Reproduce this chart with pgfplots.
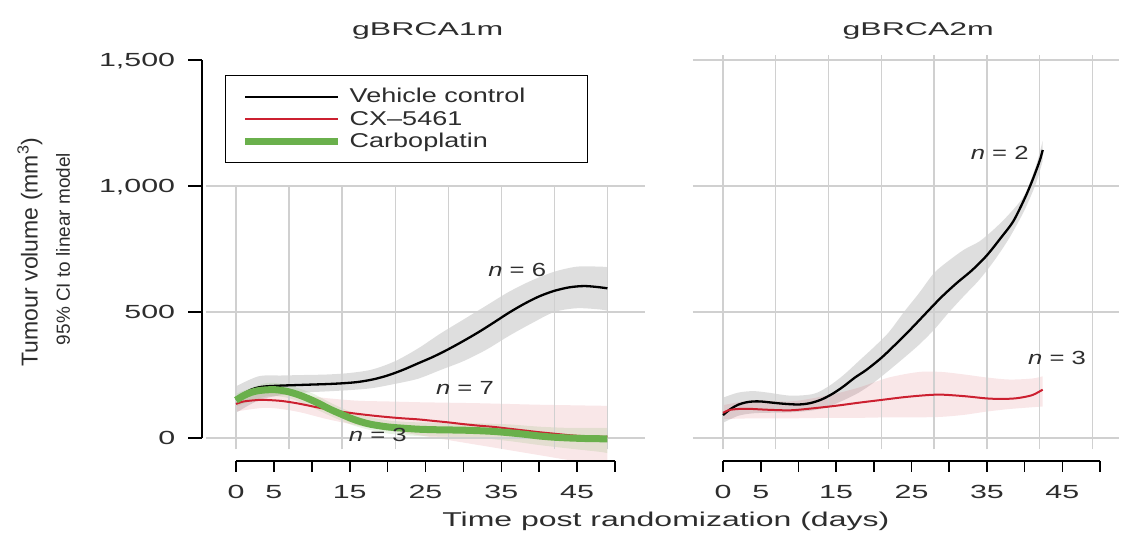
\documentclass[border=0pt]{standalone}
\usepackage{fontspec}
\setmainfont{Liberation Sans}
\usepackage{graphicx}
\usepackage{pgfplots}
\usepackage{pgfplotstable}
\pgfplotsset{compat=1.18}
\usepgfplotslibrary{fillbetween}

\definecolor{cred}{RGB}{204,32,48}
\definecolor{cgreen}{RGB}{106,176,76}
\definecolor{cgrid}{RGB}{208,208,208}
\definecolor{ctext}{RGB}{45,45,45}

\newcommand{\sx}[2]{\scalebox{#1}[1]{#2}}
\newcommand{\fs}[1]{\fontsize{#1}{#1}\selectfont}

% ---------- gBRCA1m ----------
\pgfplotstableread{
x y
0 152
1 175
2 192
3 201
4 205
6 208
8 210
10 212
12 214
14 217
16 222
18 232
20 248
22 270
24 296
26 322
28 352
30 385
32 420
34 458
36 497
38 532
40 562
42 584
44 598
46 603
48 598
49 594
}\LBlack
\pgfplotstableread{
x lo hi
0 100 205
3 150 245
6 170 248
9 180 250
12 185 252
15 190 258
18 198 272
21 215 305
24 235 355
27 270 415
30 305 470
33 350 525
36 405 580
39 455 625
42 500 660
45 515 680
48 510 680
49 505 678
}\LBlackCI
\pgfplotstableread{
x y
0 135
1 145
3 151
4 151
6 147
8 138
10 126
12 114
14 104
16 96
18 89
20 83
22 78
24 74
26 68
28 62
30 55
32 49
34 44
36 37
38 30
40 23
42 17
44 11
46 7
48 5
49 5
}\LRed
\pgfplotstableread{
x lo hi
0 105 165
4 120 182
8 105 172
12 75 158
16 50 148
20 30 145
24 12 142
28 -8 140
32 -28 138
36 -48 135
40 -68 132
44 -88 130
48 -105 128
49 -110 128
}\LRedCI
\pgfplotstableread{
x y
0 150
1 168
2 181
3 188
4 191
5 192
6 189
7 183
8 174
9 163
10 150
11 136
12 120
13 106
14 93
15 80
16 69
17 60
18 53
20 44
22 39
24 35
26 33
28 32
30 31
32 29
34 26
36 21
38 15
40 8
42 3
44 0
46 -2
48 -3
49 -3
}\LGreen
\pgfplotstableread{
x lo hi
0 125 175
4 165 218
7 158 208
10 122 178
13 80 132
16 45 95
20 18 70
24 8 62
28 5 60
32 0 58
36 -12 54
40 -28 45
44 -42 40
48 -55 40
49 -60 40
}\LGreenCI

% ---------- gBRCA2m ----------
\pgfplotstableread{
x y
0 91
1 115
2 132
3 141
4 145
5 145
6 142
8 136
10 133
11.5 138
13 152
14.5 175
16 205
17.5 240
19 270
21 318
23 375
25 435
27 498
29 560
31 615
33 665
35 725
37 800
38.5 860
40 950
41 1020
42 1100
42.4 1143
}\RBlack
\pgfplotstableread{
x lo hi
0 60 160
2 88 180
4 98 186
6 100 180
9 102 168
12 110 175
14 125 205
16 150 250
18 180 305
20 220 360
22 268 420
24 318 500
26 370 575
28 430 655
30 500 705
32 565 748
34 628 780
36 705 830
38 795 890
40 905 965
41.5 1010 1080
42.4 1100 1180
}\RBlackCI
\pgfplotstableread{
x y
0 100
1 112
3 116
6 112
9 110
12 118
15 128
18 140
21 151
24 162
27 170
29 172
32 166
35 157
37 155
39 158
41 170
42.4 192
}\RRed
\pgfplotstableread{
x lo hi
0 75 130
4 78 150
9 78 145
14 80 170
18 80 200
22 82 240
26 82 262
29 84 262
32 92 252
35 105 240
38 115 232
41 122 236
42.4 125 245
}\RRedCI

\begin{document}
\begin{tikzpicture}[x=1pt,y=1pt]

% ================= left panel =================
\begin{axis}[
  at={(205.68pt,74.32pt)}, anchor=south west,
  scale only axis, width=439.64pt, height=405.72pt,
  xmin=-4, xmax=54, ymin=-90, ymax=1520,
  hide axis, clip mode=individual,
  legend image code/.code={\draw[#1] (0pt,0pt) -- (93pt,0pt);},
  legend cell align=left,
  legend style={at={(0.0439,0.9506)}, anchor=north west,
    draw=black, line width=1.5pt, fill=white,
    inner xsep=16pt, inner ysep=9.75pt,
    font={\fs{20}}, text=ctext,
    /tikz/every odd column/.append style={column sep=8pt},
    nodes={inner sep=0pt, text height=17.25pt, text depth=5.25pt},
    row sep=0pt},
]
% grid
\pgfplotsinvokeforeach{0,7,14,21,28,35,42,49}{
  \draw[cgrid, line width=1.3pt] (axis cs:#1,-45) -- (axis cs:#1,1000);}
\pgfplotsinvokeforeach{0,500,1000}{
  \draw[cgrid, line width=1.3pt] (axis cs:-4,#1) -- (axis cs:54,#1);}

% confidence bands
\addplot[draw=none, forget plot, smooth, name path=lbh] table[x=x,y=hi] {\LBlackCI};
\addplot[draw=none, forget plot, smooth, name path=lbl] table[x=x,y=lo] {\LBlackCI};
\addplot[black, fill opacity=0.13, draw=none, forget plot] fill between[of=lbh and lbl];
\addplot[draw=none, forget plot, smooth, name path=lrh] table[x=x,y=hi] {\LRedCI};
\addplot[draw=none, forget plot, smooth, name path=lrl] table[x=x,y=lo] {\LRedCI};
\addplot[cred, fill opacity=0.11, draw=none, forget plot] fill between[of=lrh and lrl];
\addplot[draw=none, forget plot, smooth, name path=lgh] table[x=x,y=hi] {\LGreenCI};
\addplot[draw=none, forget plot, smooth, name path=lgl] table[x=x,y=lo] {\LGreenCI};
\addplot[cgreen, fill opacity=0.15, draw=none, forget plot] fill between[of=lgh and lgl];

% lines
\addplot[black, line width=2.3pt, smooth] table[x=x,y=y] {\LBlack};
\addlegendentry{\sx{1.35}{Vehicle control}\hspace*{46pt}}
\addplot[cred, line width=2pt, smooth] table[x=x,y=y] {\LRed};
\addlegendentry{\sx{1.35}{CX\textendash 5461}}
\addplot[cgreen, line width=7pt, smooth] table[x=x,y=y] {\LGreen};
\addlegendentry{\sx{1.35}{Carboplatin}}

% y axis
\draw[black, line width=1.6pt] (axis cs:-4.49,0) -- (axis cs:-4.49,1500);
\pgfplotsinvokeforeach{0,500,1000,1500}{
  \draw[black, line width=1.6pt] (axis cs:-4.49,#1) -- (axis cs:-6.33,#1);}
\node[anchor=base east, text=ctext, inner sep=0pt] at (axis cs:-8,-27) {\fs{19}\sx{1.6}{0}};
\node[anchor=base east, text=ctext, inner sep=0pt] at (axis cs:-8,473) {\fs{19}\sx{1.6}{500}};
\node[anchor=base east, text=ctext, inner sep=0pt] at (axis cs:-8,973) {\fs{19}\sx{1.6}{1,000}};
\node[anchor=base east, text=ctext, inner sep=0pt] at (axis cs:-8,1473) {\fs{19}\sx{1.6}{1,500}};
\node[rotate=90, text=ctext, inner sep=0pt] at (axis cs:-27.2,738) {\fs{23}Tumour volume (mm\textsuperscript{3})};
\node[rotate=90, text=ctext, inner sep=0pt] at (axis cs:-22.8,750) {\fs{19}95\% CI to linear model};

% x axis
\draw[black, line width=1.6pt] (axis cs:0,-91) -- (axis cs:50,-91);
\pgfplotsinvokeforeach{0,5,10,15,20,25,30,35,40,45,50}{
  \draw[black, line width=1.6pt] (axis cs:#1,-91) -- (axis cs:#1,-135);}
\pgfplotsinvokeforeach{0,5,15,25,35,45}{
  \node[anchor=base, text=ctext, inner sep=0pt] at (axis cs:#1,-242) {\fs{19}\sx{1.6}{#1}};}
\node[anchor=base, text=ctext, inner sep=0pt] at (axis cs:56.7,-353) {\fs{20}\sx{1.6}{Time post randomization (days)}};

% title and annotations
\node[anchor=base, text=ctext, inner sep=0pt] at (axis cs:25.3,1599) {\fs{18.5}\sx{1.73}{gBRCA1m}};
\node[text=ctext, inner sep=0pt] at (axis cs:37.1,667) {\fs{19}\sx{1.35}{\textit{n} = 6}};
\node[text=ctext, inner sep=0pt] at (axis cs:30.2,198) {\fs{19}\sx{1.35}{\textit{n} = 7}};
\node[text=ctext, inner sep=0pt] at (axis cs:18.7,12) {\fs{19}\sx{1.35}{\textit{n} = 3}};
\end{axis}

% ================= right panel =================
\begin{axis}[
  at={(692.84pt,74.32pt)}, anchor=south west,
  scale only axis, width=426.01pt, height=405.72pt,
  xmin=-4, xmax=52.5, ymin=-90, ymax=1520,
  hide axis, clip mode=individual,
]
\pgfplotsinvokeforeach{0,7,14,21,28,35,42,49}{
  \draw[cgrid, line width=1.3pt] (axis cs:#1,-45) -- (axis cs:#1,1520);}
\pgfplotsinvokeforeach{0,500,1000,1500}{
  \draw[cgrid, line width=1.3pt] (axis cs:-4,#1) -- (axis cs:52.5,#1);}

\addplot[draw=none, forget plot, smooth, name path=rbh] table[x=x,y=hi] {\RBlackCI};
\addplot[draw=none, forget plot, smooth, name path=rbl] table[x=x,y=lo] {\RBlackCI};
\addplot[black, fill opacity=0.13, draw=none, forget plot] fill between[of=rbh and rbl];
\addplot[draw=none, forget plot, smooth, name path=rrh] table[x=x,y=hi] {\RRedCI};
\addplot[draw=none, forget plot, smooth, name path=rrl] table[x=x,y=lo] {\RRedCI};
\addplot[cred, fill opacity=0.11, draw=none, forget plot] fill between[of=rrh and rrl];

\addplot[black, line width=2.3pt, smooth] table[x=x,y=y] {\RBlack};
\addplot[cred, line width=2pt, smooth] table[x=x,y=y] {\RRed};

\draw[black, line width=1.6pt] (axis cs:0,-91) -- (axis cs:50,-91);
\pgfplotsinvokeforeach{0,5,10,15,20,25,30,35,40,45,50}{
  \draw[black, line width=1.6pt] (axis cs:#1,-91) -- (axis cs:#1,-135);}
\pgfplotsinvokeforeach{0,5,15,25,35,45}{
  \node[anchor=base, text=ctext, inner sep=0pt] at (axis cs:#1,-242) {\fs{19}\sx{1.6}{#1}};}

\node[anchor=base, text=ctext, inner sep=0pt] at (axis cs:25.9,1599) {\fs{18.5}\sx{1.73}{gBRCA2m}};
\node[text=ctext, inner sep=0pt] at (axis cs:36.7,1131) {\fs{19}\sx{1.35}{\textit{n} = 2}};
\node[text=ctext, inner sep=0pt] at (axis cs:44.3,317) {\fs{19}\sx{1.35}{\textit{n} = 3}};
\end{axis}
\path (0,0) rectangle (1122,535);
\end{tikzpicture}
\end{document}
